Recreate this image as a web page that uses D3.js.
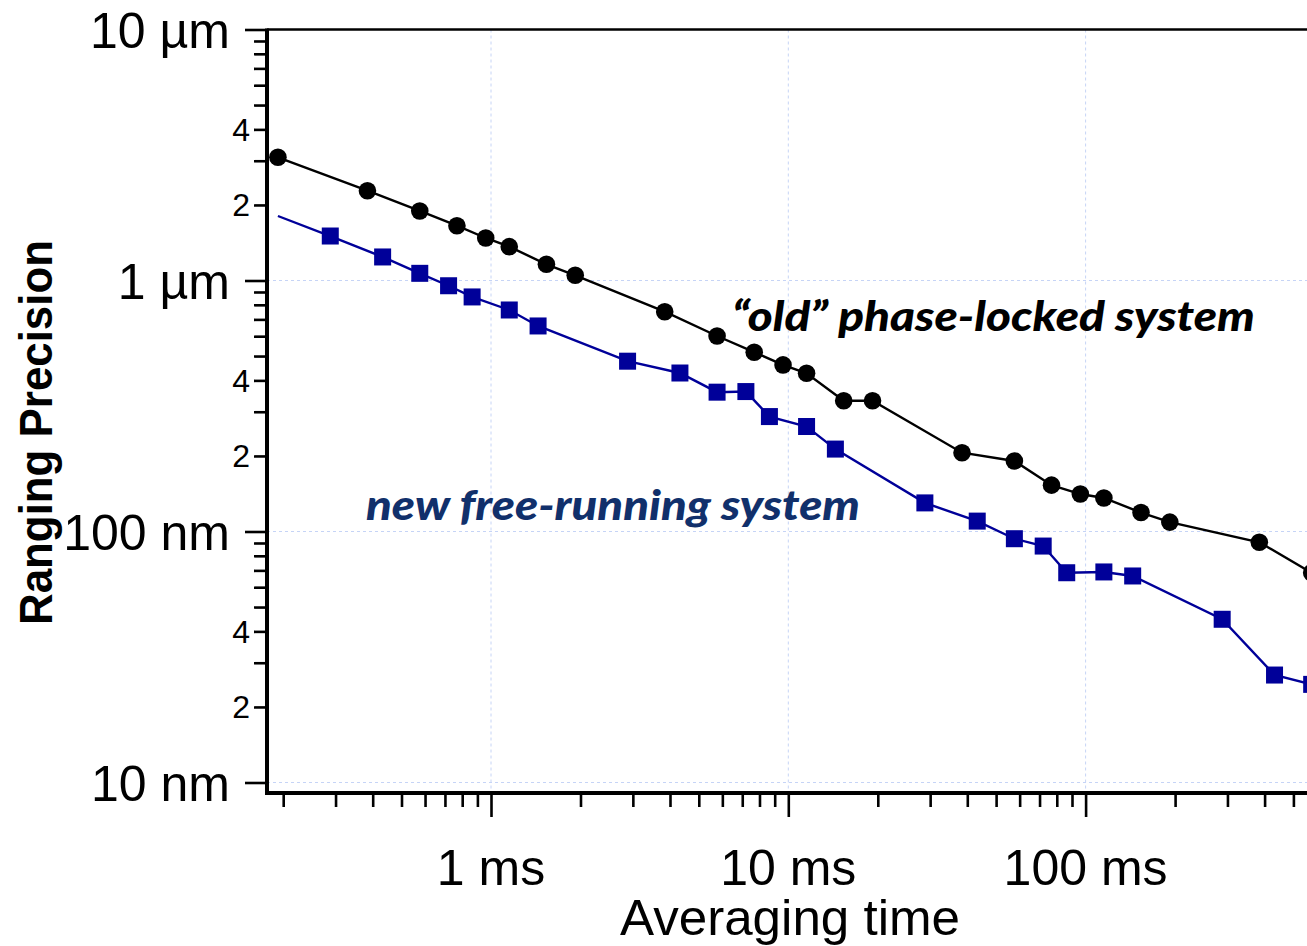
<!DOCTYPE html>
<html>
<head>
<meta charset="utf-8">
<script src="https://cdn.jsdelivr.net/npm/d3@7"></script>
<style>
  html, body { margin: 0; padding: 0; background: #fff; overflow: hidden; }
  svg { display: block; }
</style>
</head>
<body>
<svg id="chart" width="1307" height="946"></svg>
<script>
// ---------- data (averaging time in ms, ranging precision in nm) ----------
const oldTimeMs = [0.192, 0.384, 0.576, 0.768, 0.96, 1.152, 1.536, 1.92, 3.84, 5.76, 7.68, 9.6, 11.52, 15.36, 19.2, 38.4, 57.6, 76.8, 96, 115.2, 153.6, 192, 384, 576];
const oldPrecisionNm = [3096, 2279, 1892, 1653, 1477, 1364, 1160, 1049, 751, 601, 518, 461, 427, 332, 332, 206, 191, 153, 141, 136, 119, 109, 90.6, 68.5];

// first point of the new series is drawn as line start only (no marker in the original)
const newTimeMs = [0.192, 0.288, 0.432, 0.576, 0.72, 0.864, 1.152, 1.44, 2.88, 4.32, 5.76, 7.2, 8.64, 11.52, 14.4, 28.8, 43.2, 57.6, 72, 86.4, 115.2, 144, 288, 432, 576];
const newPrecisionNm = [1807, 1504, 1241, 1068, 953, 860, 763, 659, 477, 428, 359, 361, 287, 262, 213, 130, 110, 93.6, 87.5, 68.5, 69.0, 66.5, 44.7, 26.8, 24.6];

const xMajorTicks = [1, 10, 100];
const xMajorLabels = ["1 ms", "10 ms", "100 ms"];
const yMajorTicks = [10, 100, 1000, 10000];
const yMajorLabels = ["10 nm", "100 nm", "1 µm", "10 µm"];
const yMinorLabelled = [2, 4];

const oldLabel = "\u201Cold\u201D phase-locked system";
const newLabel = "new free-running system";
const xTitle = "Averaging time";
const yTitle = "Ranging Precision";

// ---------- layout ----------
const svg = d3.select("#chart");
const plotLeft = 267, plotTop = 29.5, plotBottom = 793, plotRight = 1307;

const x = d3.scaleLog().domain([1, 1000]).range([491, 491 + 3 * 297.3]);
const y = d3.scaleLog().domain([10, 10000]).range([782.5, 29.5]);

const xMinorVals = [];
for (const dec of [0.1, 1, 10, 100]) for (let k = 1; k <= 9; k++) {
  const v = +(dec * k).toPrecision(3);
  if (x(v) >= plotLeft && x(v) <= plotRight + 2) xMinorVals.push(v);
}
const yMinorVals = [];
for (const dec of [10, 100, 1000]) for (let k = 1; k <= 9; k++) yMinorVals.push(dec * k);
yMinorVals.push(10000);

// gridlines
const grid = svg.append("g").attr("stroke", "#c6d4f6").attr("stroke-width", 1).attr("stroke-dasharray", "3,3");
grid.selectAll("line.h").data(yMajorTicks.filter(v => v < 10000)).join("line")
  .attr("x1", plotLeft).attr("x2", plotRight).attr("y1", d => y(d)).attr("y2", d => y(d));
grid.selectAll("line.v").data(xMajorTicks).join("line")
  .attr("x1", d => x(d)).attr("x2", d => x(d)).attr("y1", plotTop).attr("y2", plotBottom);

const labelFont = "Liberation Sans, Arial, sans-serif";

// x axis ticks
const xAxis = d3.axisBottom(x).tickValues(xMinorVals).tickSize(14).tickFormat("");
const gx = svg.append("g").attr("transform", `translate(0,${plotBottom})`).call(xAxis);
gx.select(".domain").remove();
gx.selectAll(".tick line").attr("stroke", "#000").attr("stroke-width", 2.6)
  .attr("y2", d => xMajorTicks.includes(d) ? 24 : 14);
svg.append("g").selectAll("text").data(xMajorTicks).join("text")
  .attr("x", d => x(d)).attr("y", 885).attr("text-anchor", "middle")
  .attr("font-family", labelFont).attr("font-size", 50)
  .text((d, i) => xMajorLabels[i]);

// y axis ticks
const yAxis = d3.axisLeft(y).tickValues(yMinorVals).tickSize(13).tickFormat("");
const gy = svg.append("g").attr("transform", `translate(${plotLeft},0)`).call(yAxis);
gy.select(".domain").remove();
gy.selectAll(".tick line").attr("stroke", "#000").attr("stroke-width", 2.6)
  .attr("x2", d => yMajorTicks.includes(d) ? -22 : -13);
svg.append("g").selectAll("text").data(yMajorTicks).join("text")
  .attr("x", 230).attr("y", d => y(d)).attr("dy", "0.36em").attr("text-anchor", "end")
  .attr("font-family", labelFont).attr("font-size", 50)
  .text((d, i) => yMajorLabels[i]);
const yMinorLabelVals = yMinorVals.filter(v => {
  const m = v / Math.pow(10, Math.floor(Math.log10(v) + 1e-9));
  return yMinorLabelled.includes(Math.round(m));
});
svg.append("g").selectAll("text").data(yMinorLabelVals).join("text")
  .attr("x", 250).attr("y", d => y(d)).attr("dy", "0.36em").attr("text-anchor", "end")
  .attr("font-family", labelFont).attr("font-size", 32)
  .text(d => String(Math.round(d / Math.pow(10, Math.floor(Math.log10(d) + 1e-9)))));

// frame
svg.append("line").attr("x1", plotLeft).attr("x2", plotRight + 5).attr("y1", plotTop).attr("y2", plotTop)
  .attr("stroke", "#000").attr("stroke-width", 2.5);
svg.append("line").attr("x1", plotLeft).attr("x2", plotLeft).attr("y1", plotTop - 1).attr("y2", plotBottom + 2)
  .attr("stroke", "#000").attr("stroke-width", 4);
svg.append("line").attr("x1", plotLeft - 2).attr("x2", plotRight + 5).attr("y1", plotBottom).attr("y2", plotBottom)
  .attr("stroke", "#000").attr("stroke-width", 4);

// series
const oldData = oldTimeMs.map((t, i) => ({ t, p: oldPrecisionNm[i] }));
const newData = newTimeMs.map((t, i) => ({ t, p: newPrecisionNm[i] }));
const line = d3.line().x(d => x(d.t)).y(d => y(d.p));

svg.append("path").datum(newData).attr("d", line).attr("fill", "none")
  .attr("stroke", "#000099").attr("stroke-width", 2.4);
svg.append("g").selectAll("rect").data(newData.slice(1)).join("rect")
  .attr("x", d => x(d.t) - 8.5).attr("y", d => y(d.p) - 8.5).attr("width", 17).attr("height", 17)
  .attr("fill", "#000099");

svg.append("path").datum(oldData).attr("d", line).attr("fill", "none")
  .attr("stroke", "#000").attr("stroke-width", 2.4);
svg.append("g").selectAll("circle").data(oldData).join("circle")
  .attr("cx", d => x(d.t)).attr("cy", d => y(d.p)).attr("r", 8.8).attr("fill", "#000");

// annotations
svg.append("text").attr("x", 732).attr("y", 331)
  .attr("font-family", "Lato, 'Open Sans', sans-serif").attr("font-weight", 900).attr("font-style", "italic")
  .attr("font-size", 41).attr("textLength", 523).attr("lengthAdjust", "spacingAndGlyphs")
  .attr("fill", "#000").text(oldLabel);
svg.append("text").attr("x", 366).attr("y", 520)
  .attr("font-family", "Lato, 'Open Sans', sans-serif").attr("font-weight", 900).attr("font-style", "italic")
  .attr("font-size", 41).attr("textLength", 494).attr("lengthAdjust", "spacingAndGlyphs")
  .attr("fill", "#11306b").text(newLabel);

// axis titles
svg.append("text").attr("x", 790).attr("y", 935).attr("text-anchor", "middle")
  .attr("font-family", labelFont).attr("font-size", 50)
  .attr("textLength", 340).attr("lengthAdjust", "spacingAndGlyphs").text(xTitle);
svg.append("text").attr("transform", "translate(52,432.5) rotate(-90)").attr("text-anchor", "middle")
  .attr("font-family", labelFont).attr("font-weight", "bold").attr("font-size", 47)
  .attr("textLength", 385).attr("lengthAdjust", "spacingAndGlyphs").text(yTitle);
</script>
</body>
</html>
